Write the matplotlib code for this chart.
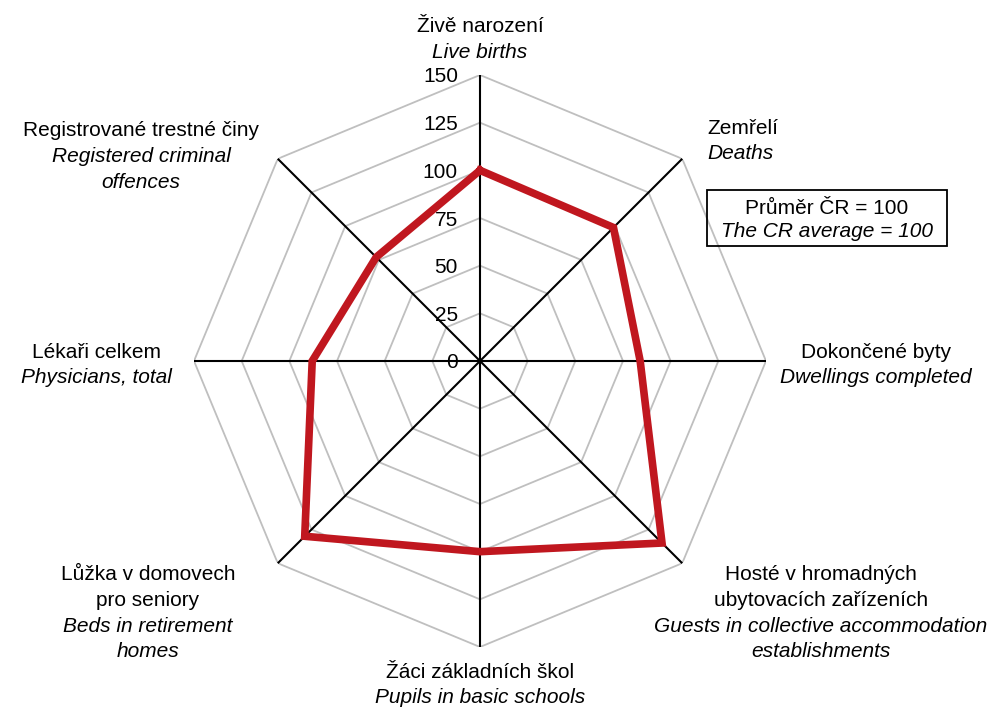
import numpy as np
import matplotlib.pyplot as plt
from matplotlib.patches import Rectangle
from matplotlib.transforms import offset_copy

plt.rcParams['font.family'] = ['Liberation Sans', 'DejaVu Sans']

# categories clockwise from the top
labels_cz = [["Živě narození"], ["Zemřelí"], ["Dokončené byty"],
             ["Hosté v hromadných", "ubytovacích zařízeních"],
             ["Žáci základních škol"], ["Lůžka v domovech", "pro seniory"],
             ["Lékaři celkem"], ["Registrované trestné činy"]]
labels_en = [["Live births"], ["Deaths"], ["Dwellings completed"],
             ["Guests in collective accommodation", "establishments"],
             ["Pupils in basic schools"], ["Beds in retirement", "homes"],
             ["Physicians, total"], ["Registered criminal", "offences"]]
values = [100, 99, 84, 135, 100, 130, 88, 77]
r_ticks = [0, 25, 50, 75, 100, 125, 150]

W, H = 998, 709
cx, cy, R = 480, 361, 286
# label anchor (px, centre of first line) and alignment
label_pos = [(480, 27, 'center'), (707, 128, 'left'), (876, 352, 'center'),
             (821, 575, 'center'), (480, 672, 'center'), (148, 575, 'center'),
             (96, 352, 'center'), (141, 131, 'center')]
line_step = 25.5

fig = plt.figure(figsize=(W / 100, H / 100), dpi=100)
ax = fig.add_axes([(cx - R) / W, (H - cy - R) / H, 2 * R / W, 2 * R / H],
                  projection='polar')
ax.set_theta_zero_location('N')
ax.set_theta_direction(-1)
ax.set_ylim(0, r_ticks[-1])
ax.grid(False)
ax.set_xticks([])
ax.set_yticks([])
ax.spines['polar'].set_visible(False)
ax.patch.set_visible(False)

n = len(values)
theta = np.arange(n) * 2 * np.pi / n
theta_c = np.append(theta, theta[0])

for r in r_ticks[1:]:
    ax.plot(theta_c, [r] * (n + 1), color='#bfbfbf', lw=1.3, zorder=1)
for t in theta:
    ax.plot([t, t], [0, r_ticks[-1]], color='black', lw=1.5, zorder=2)

ax.plot(theta_c, values + values[:1], color='#c0171f', lw=5.5,
        solid_joinstyle='miter', zorder=3)

tick_tr = offset_copy(ax.transData, fig=fig, x=-22, y=-2, units='dots')
for r in r_ticks:
    ax.text(0, r, str(r), transform=tick_tr, ha='right', va='center',
            fontsize=15, zorder=4)

fs = 15
for cz, en, (x, y, ha) in zip(labels_cz, labels_en, label_pos):
    i = 0
    for line in cz:
        fig.text(x / W, 1 - (y + i * line_step) / H, line, ha=ha, va='center',
                 fontsize=fs)
        i += 1
    for line in en:
        fig.text(x / W, 1 - (y + i * line_step) / H, line, ha=ha, va='center',
                 fontsize=fs, style='italic')
        i += 1

# legend box
fig.add_artist(Rectangle((707 / W, 1 - 246 / H), 240 / W, 56 / H,
                         transform=fig.transFigure, fill=False,
                         edgecolor='black', lw=1.3))
fig.text(827 / W, 1 - 209 / H, "Průměr ČR = 100", ha='center', va='center',
         fontsize=fs)
fig.text(827 / W, 1 - 232 / H, "The CR average = 100", ha='center',
         va='center', fontsize=fs, style='italic')

fig.savefig("out.png", dpi=100)
